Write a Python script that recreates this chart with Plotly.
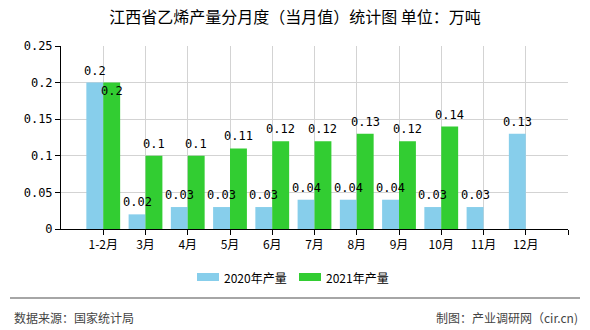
import plotly.graph_objects as go

categories = ["1-2月", "3月", "4月", "5月", "6月", "7月", "8月", "9月", "10月", "11月", "12月"]
values_2020 = [0.2, 0.02, 0.03, 0.03, 0.03, 0.04, 0.04, 0.04, 0.03, 0.03, 0.13]
values_2021 = [0.2, 0.1, 0.1, 0.11, 0.12, 0.12, 0.13, 0.12, 0.14, None, None]
series_names = ["2020年产量", "2021年产量"]
series_colors = ["#87CEEB", "#32CD32"]
y_ticks = [0, 0.05, 0.1, 0.15, 0.2, 0.25]
y_tick_text = ["0", "0.05", "0.1", "0.15", "0.2", "0.25"]

x_pos = list(range(len(categories)))
num_font = "SimSun, 'DejaVu Sans Mono', 'Noto Sans CJK SC', monospace"
cjk_font = "'Noto Sans CJK SC', SimSun, sans-serif"

# plot area in pixels
L, R, T, B = 61, 568, 46, 229
W, H = R - L, B - T

def px(x):
    return (x - L) / W

def py(y):
    return (B - y) / H

def fmt(v):
    return "" if v is None else ("%g" % v)

fig = go.Figure()
for name, vals, col in zip(series_names, [values_2020, values_2021], series_colors):
    fig.add_trace(go.Bar(
        x=x_pos, y=vals, name=name,
        marker=dict(color=col, line=dict(width=0)),
    ))

# value labels drawn on top of all bars
half = 0.8 / 4
for i, (a, b) in enumerate(zip(values_2020, values_2021)):
    if a is not None:
        fig.add_annotation(x=i - half, y=a, text=fmt(a), showarrow=False,
                           yanchor="middle", yshift=12,
                           font=dict(family=num_font, size=12, color="#000"))
    if b is not None:
        collide = a is not None and abs(a - b) < 0.01
        fig.add_annotation(x=i + half, y=b, text=fmt(b), showarrow=False,
                           yanchor="middle", yshift=-8 if collide else 12,
                           font=dict(family=num_font, size=12, color="#000"))

# custom legend (wide swatches)
legend_x = [197, 299]
for lx, name, col in zip(legend_x, series_names, series_colors):
    fig.add_shape(type="rect", xref="paper", yref="paper",
                  x0=px(lx), x1=px(lx + 22), y0=py(281), y1=py(273),
                  line=dict(width=0), fillcolor=col)
    fig.add_annotation(text=name, xref="paper", yref="paper",
                       x=px(lx + 25), y=py(277), xanchor="left", yanchor="middle",
                       showarrow=False, font=dict(family=cjk_font, size=12, color="#000"))

fig.update_layout(
    width=590, height=330,
    margin=dict(l=L, r=590 - R, t=T, b=330 - B),
    paper_bgcolor="white", plot_bgcolor="white",
    barmode="group", bargap=0.2, bargroupgap=0,
    title=dict(text="江西省乙烯产量分月度（当月值）统计图 单位：万吨",
               x=0.5, xanchor="center", y=1 - 17 / 330, yanchor="middle",
               font=dict(family=cjk_font, size=16, color="#000")),
    showlegend=False,
)
fig.update_xaxes(
    range=[-1, 11], tickmode="array",
    tickvals=x_pos + [11], ticktext=categories + [""],
    showgrid=True, gridcolor="#d3d3d3", gridwidth=1,
    showline=True, linecolor="#000", linewidth=1,
    ticks="outside", ticklen=5, tickcolor="#000",
    tickfont=dict(family=cjk_font, size=12, color="#000"),
    zeroline=False, fixedrange=True,
)
fig.update_yaxes(
    range=[0, 0.25], tickmode="array", tickvals=y_ticks, ticktext=y_tick_text,
    showgrid=True, gridcolor="#d3d3d3", gridwidth=1,
    showline=True, linecolor="#000", linewidth=1,
    ticks="outside", ticklen=5, tickcolor="#000",
    tickfont=dict(family=num_font, size=12, color="#000"),
    zeroline=False, fixedrange=True,
)
fig.add_shape(type="line", xref="paper", yref="paper",
              x0=px(10), x1=px(580), y0=py(298), y1=py(298),
              line=dict(color="#888", width=1.5))
fig.add_annotation(text="数据来源：国家统计局", xref="paper", yref="paper",
                   x=px(12), y=py(317), xanchor="left", yanchor="middle",
                   showarrow=False, font=dict(family=cjk_font, size=12, color="#444"))
fig.add_annotation(text="制图：产业调研网（cir.cn)", xref="paper", yref="paper",
                   x=px(580), y=py(317), xanchor="right", yanchor="middle",
                   showarrow=False, font=dict(family=cjk_font, size=12, color="#444"))

fig.write_html("out.html")
